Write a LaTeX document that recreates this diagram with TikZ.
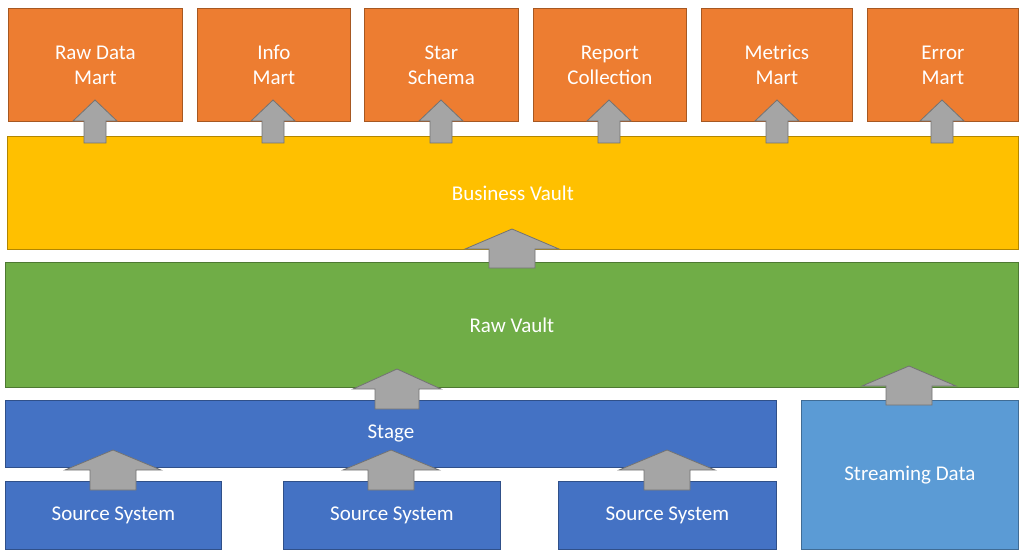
\documentclass[tikz,border=0pt]{standalone}
\usepackage{fontspec}
\setmainfont{Carlito}
\begin{document}
\begin{tikzpicture}[x=1pt,y=-1pt,
  box/.style={draw=#1!70!black,fill=#1,line width=0.8pt,text=white,font=\fontsize{21}{25}\selectfont,align=center,inner sep=0pt},
  blk/.style={fill=arrgray,draw=arrgray!70!black,line width=0.8pt},
  pics/uparrow/.style n args={5}{code={% tip, base, bottom, headhalf, shafthalf
    \draw[blk] (0,#1) -- (#4,#2) -- (#5,#2) -- (#5,#3) -- (-#5,#3) -- (-#5,#2) -- (-#4,#2) -- cycle;}}]
\definecolor{orng}{HTML}{ED7D31}
\definecolor{yel}{HTML}{FFC000}
\definecolor{grn}{HTML}{70AD47}
\definecolor{blu}{HTML}{4472C4}
\definecolor{lblu}{HTML}{5B9BD5}
\definecolor{arrgray}{HTML}{A5A5A5}
\useasboundingbox (0,0) rectangle (1024,556);
\def\bx#1#2#3#4#5#6#7{\node[box=#1,minimum width={#4-#2},minimum height={#5-#3},anchor=north west] (#6) at (#2,#3) {#7};}
\bx{orng}{8}{8}{182}{121}{m1}{Raw Data\\Mart}
\bx{orng}{197}{8}{350}{121}{m2}{Info\\Mart}
\bx{orng}{364}{8}{518}{121}{m3}{Star\\Schema}
\bx{orng}{533}{8}{686}{121}{m4}{Report\\Collection}
\bx{orng}{701}{8}{852}{121}{m5}{Metrics\\Mart}
\bx{orng}{867}{8}{1018}{121}{m6}{Error\\Mart}
\bx{yel}{7}{136}{1018}{249}{bv}{Business Vault}
\bx{grn}{5}{262}{1018}{387}{rv}{Raw Vault}
\bx{blu}{5}{400}{776}{467}{st}{Stage}
\bx{blu}{5}{481}{221}{549}{s1}{Source System}
\bx{blu}{283}{481}{500}{549}{s2}{Source System}
\bx{blu}{558}{481}{776}{549}{s3}{Source System}
\bx{lblu}{801}{400}{1018}{549}{sd}{Streaming Data}
\foreach \c in {95,273,441,609,777,942}
  \pic at (\c,0) {uparrow={100}{121}{143}{22}{11}};
\pic at (512,0) {uparrow={229}{249}{268}{47}{23}};
\pic at (397,0) {uparrow={369}{389}{409}{44}{22}};
\pic at (909,0) {uparrow={366}{386}{405}{47}{23}};
\foreach \c in {113,391,667}
  \pic at (\c,0) {uparrow={450}{470}{490}{48}{23}};
\end{tikzpicture}
\end{document}
